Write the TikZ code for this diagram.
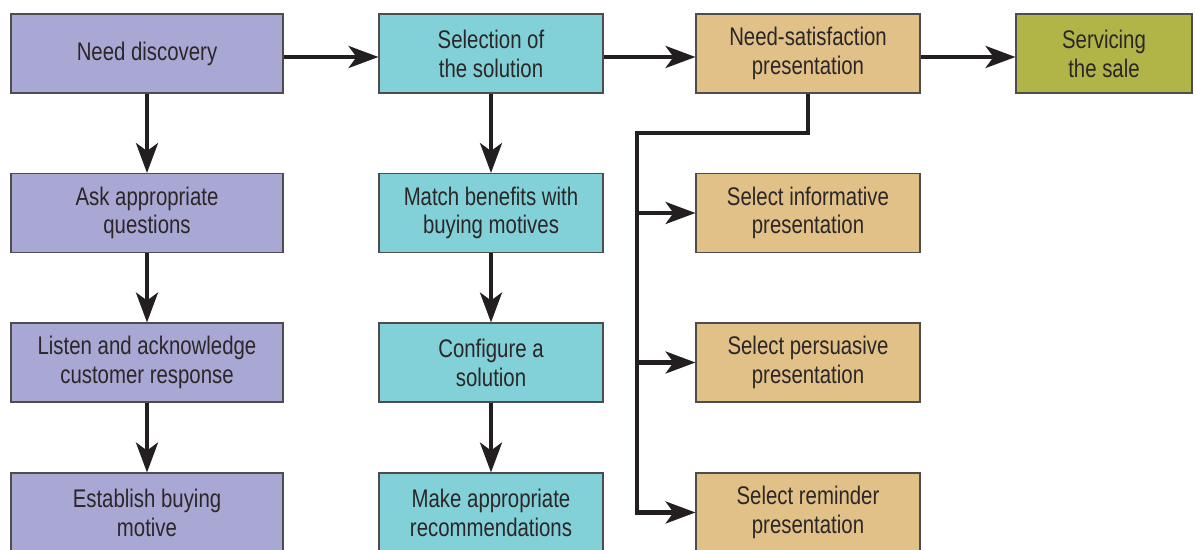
\documentclass[tikz,border=0pt]{standalone}
\usepackage{fontspec}
\setmainfont{Liberation Sans}[FakeStretch=0.8]
\usetikzlibrary{arrows.meta}
\definecolor{SPPurple}{HTML}{A9A8D4}
\definecolor{SPCyan}{HTML}{82D1D8}
\definecolor{SPTan}{HTML}{E1C187}
\definecolor{SPOlive}{HTML}{B1B547}
\definecolor{SPLine}{HTML}{231F20}
\definecolor{SPText}{HTML}{2B2627}

\tikzset{
  stage/.style={draw=SPLine!80,line width=.6pt,minimum height=1.58cm,align=center,
    inner sep=0pt,text=SPText,font=\fontsize{14.5}{16.4}\selectfont},
  wide/.style={stage,minimum width=5.44cm},
  mid/.style={stage,minimum width=4.48cm},
  flow/.style={draw=SPLine,line width=2.3pt,line join=miter,
    -{Stealth[length=17pt,width=12.5pt,inset=4.5pt]}}
}

\begin{document}
\begin{tikzpicture}[x=1cm,y=1cm]
\path[use as bounding box] (0,0) rectangle (23.92,11.00);
\node[wide,fill=SPPurple] (need) at (2.94,9.93) {Need discovery};
\node[wide,fill=SPPurple] (ask) at (2.94,6.74) {Ask appropriate\\questions};
\node[wide,fill=SPPurple] (listen) at (2.94,3.75) {Listen and acknowledge\\customer response};
\node[wide,fill=SPPurple] (motive) at (2.94,0.75) {Establish buying\\motive};
\node[mid,fill=SPCyan] (select) at (9.82,9.93) {Selection of\\the solution};
\node[mid,fill=SPCyan] (match) at (9.82,6.74) {Match benefits with\\buying motives};
\node[mid,fill=SPCyan] (config) at (9.82,3.75) {Configure a\\solution};
\node[mid,fill=SPCyan] (recom) at (9.82,0.75) {Make appropriate\\recommendations};
\node[mid,fill=SPTan] (present) at (16.16,9.93) {Need-satisfaction\\presentation};
\node[mid,fill=SPTan] (inform) at (16.16,6.74) {Select informative\\presentation};
\node[mid,fill=SPTan] (persuade) at (16.16,3.75) {Select persuasive\\presentation};
\node[mid,fill=SPTan] (remind) at (16.16,0.75) {Select reminder\\presentation};
\node[stage,minimum width=3.52cm,fill=SPOlive] (service) at (22.08,9.93) {Servicing\\the sale};

\draw[flow] ([yshift=-.07cm]need.east) -- ([yshift=-.07cm]select.west);
\draw[flow] ([yshift=-.07cm]select.east) -- ([yshift=-.07cm]present.west);
\draw[flow] ([yshift=-.07cm]present.east) -- ([yshift=-.07cm]service.west);
\draw[flow] (need) -- (ask);
\draw[flow] (ask) -- (listen);
\draw[flow] (listen) -- (motive);
\draw[flow] (select) -- (match);
\draw[flow] (match) -- (config);
\draw[flow] (config) -- (recom);

\coordinate (bus) at (12.74,8.34);
\draw[flow] (present.south) |- (bus) |- (remind.west);
\draw[flow] (bus |- inform.west) -- (inform.west);
\draw[flow] (bus |- persuade.west) -- (persuade.west);
\end{tikzpicture}
\end{document}
